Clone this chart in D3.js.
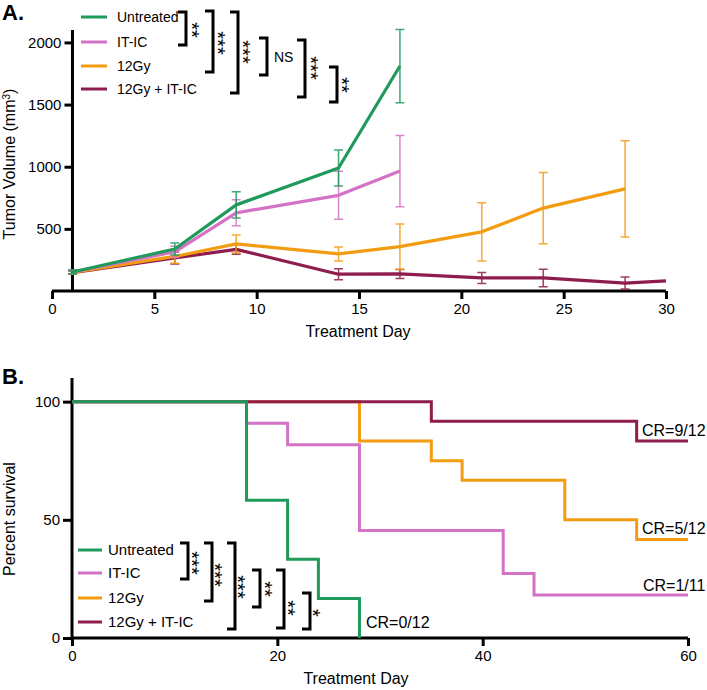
<!DOCTYPE html>
<html><head><meta charset="utf-8">
<script src="https://cdn.jsdelivr.net/npm/d3@7"></script>
<style>
body{margin:0;background:#fff;}
svg{font-family:"Liberation Sans",Arial,Helvetica,sans-serif;}
svg text{fill:#000;}
</style></head><body>
<svg id="c" width="707" height="690"></svg>
<script>
// ---------- DATA ----------
const groups = ["Untreated", "IT-IC", "12Gy", "12Gy + IT-IC"];
const colors = ["#1f9a5b", "#d472c6", "#f39c12", "#8e1c4d"];

// Panel A: tumor volume (mean ± error)
const daysUntreated = [1, 6, 9, 14, 17];
const volUntreated  = [153, 338, 693, 990, 1810];
const errUntreated  = [15, 48, 105, 145, 295];
const daysITIC = [1, 6, 9, 14, 17];
const volITIC  = [153, 315, 629, 770, 965];
const errITIC  = [15, 45, 105, 193, 287];
const days12Gy = [1, 6, 9, 14, 17, 21, 24, 28];
const vol12Gy  = [150, 278, 379, 298, 357, 476, 667, 822];
const err12Gy  = [15, 55, 72, 57, 182, 234, 287, 387];
const daysCombo = [1, 6, 9, 14, 17, 21, 24, 28, 30];
const volCombo  = [148, 266, 335, 135, 137, 105, 105, 64, 81];
const errCombo  = [12, 48, 40, 45, 36, 44, 70, 48, 0];
const xTicksA = [0, 5, 10, 15, 20, 25, 30];
const yTicksA = [500, 1000, 1500, 2000];

// Panel B: Kaplan-Meier survival
const tUntreated = [0, 17, 21, 24, 28];
const sUntreated = [100, 58.3, 33.3, 16.7, 0];
const tITIC = [0, 17, 21, 28, 42, 45, 60];
const sITIC = [100, 90.9, 81.8, 45.5, 27.3, 18.2, 18.2];
const t12Gy = [0, 28, 35, 38, 48, 55, 60];
const s12Gy = [100, 83.3, 75, 66.7, 50, 41.7, 41.7];
const tCombo = [0, 35, 55, 60];
const sCombo = [100, 91.7, 83.3, 83.3];
const crLabels = ["CR=0/12", "CR=1/11", "CR=5/12", "CR=9/12"];
const xTicksB = [0, 20, 40, 60];
const yTicksB = [0, 50, 100];

// significance annotations
const sigA = ["**", "***", "***", "NS", "***", "**"];
const sigB = ["***", "***", "***", "**", "**", "*"];

// ---------- DRAW ----------
const svg = d3.select("#c");
const FONT = "Liberation Sans, Arial, sans-serif";
const fmt = d3.format("d");

function styleAxis(g) {
  g.select(".domain").attr("stroke", "#000").attr("stroke-width", 3);
  g.selectAll(".tick line").attr("stroke", "#000").attr("stroke-width", 3);
  g.selectAll(".tick text").attr("font-size", 15).attr("font-family", FONT).attr("fill", "#000");
}

// ===== Panel A =====
const xA = d3.scaleLinear().domain([0, 30]).range([52, 666]);
const yA = d3.scaleLinear().domain([0, 2100]).range([291, 30]);
const gA = svg.append("g");

const gxA = gA.append("g").attr("transform", "translate(0,291)")
  .call(d3.axisBottom(xA).tickValues(xTicksA).tickFormat(fmt).tickSize(8).tickPadding(4));
const gyA = gA.append("g").attr("transform", `translate(${xA(1)},0)`)
  .call(d3.axisLeft(yA).tickValues(yTicksA).tickFormat(fmt).tickSize(8).tickPadding(3));
styleAxis(gxA); styleAxis(gyA);
gxA.select(".domain").attr("d", `M${xA(0)},0H${xA(30)}`);
gyA.select(".domain").attr("d", `M0,${yA(2100)}V${yA(0)}`);

const seriesA = [
  {d: daysCombo, v: volCombo, e: errCombo, c: colors[3]},
  {d: days12Gy, v: vol12Gy, e: err12Gy, c: colors[2]},
  {d: daysITIC, v: volITIC, e: errITIC, c: colors[1]},
  {d: daysUntreated, v: volUntreated, e: errUntreated, c: colors[0]}
];
const lineA = d3.line().x(p => xA(p[0])).y(p => yA(p[1]));
seriesA.forEach(s => {
  const pts = s.d.map((d, i) => [d, s.v[i], s.e[i]]);
  const eg = gA.append("g").attr("stroke", s.c).attr("stroke-width", 1.5).attr("fill", "none").attr("opacity", 0.85);
  pts.filter(p => p[2] > 0).forEach(p => {
    const x = xA(p[0]), y1 = yA(p[1] + p[2]), y2 = yA(Math.max(0, p[1] - p[2]));
    eg.append("path").attr("d", `M${x},${y1}V${y2}M${x - 4.5},${y1}H${x + 4.5}M${x - 4.5},${y2}H${x + 4.5}`);
  });
  gA.append("path").datum(pts).attr("d", lineA).attr("fill", "none")
    .attr("stroke", s.c).attr("stroke-width", 3.2).attr("stroke-linejoin", "round");
});

// legend A
const legAy = [17, 42, 66, 89];
groups.forEach((g, i) => {
  gA.append("line").attr("x1", 81).attr("x2", 107).attr("y1", legAy[i]).attr("y2", legAy[i])
    .attr("stroke", colors[i]).attr("stroke-width", 3);
  gA.append("text").attr("x", 117).attr("y", legAy[i] + 5).attr("font-size", 14).text(g);
});

// brackets A
const brA = [
  {x: 186, y1: 12, y2: 45, lx: 197, ly: 30},
  {x: 213, y1: 11, y2: 72, lx: 223, ly: 43},
  {x: 238, y1: 12, y2: 93, lx: 248, ly: 52},
  {x: 267, y1: 38, y2: 75, lx: 274, ly: 57},
  {x: 305, y1: 40, y2: 97, lx: 316, ly: 68},
  {x: 337, y1: 67, y2: 102, lx: 347, ly: 85}
];
function drawBrackets(g, br, labels) {
  br.forEach((b, i) => {
    g.append("path").attr("d", `M${b.x - 8},${b.y1}H${b.x}V${b.y2}H${b.x - 8}`)
      .attr("fill", "none").attr("stroke", "#000").attr("stroke-width", 3);
    if (labels[i] === "NS") {
      g.append("text").attr("x", b.lx).attr("y", b.ly + 5).attr("font-size", 14).text("NS");
    } else {
      g.append("text").attr("transform", `translate(${b.lx},${b.ly}) rotate(90)`)
        .attr("text-anchor", "middle").attr("dy", "0.58em").attr("font-size", 20)
        .attr("fill", "#000").text(labels[i]);
    }
  });
}
drawBrackets(gA, brA, sigA);

gA.append("text").attr("x", 2).attr("y", 20).attr("font-size", 22).attr("font-weight", "bold").text("A.");
gA.append("text").attr("transform", "translate(15,164) rotate(-90)").attr("text-anchor", "middle")
  .attr("font-size", 16).html("Tumor Volume (mm<tspan baseline-shift=\"super\" font-size=\"10\">3</tspan>)");
gA.append("text").attr("x", 358).attr("y", 337).attr("text-anchor", "middle").attr("font-size", 16).text("Treatment Day");

// ===== Panel B =====
const xB = d3.scaleLinear().domain([0, 60]).range([72, 688]);
const yB = d3.scaleLinear().domain([0, 110]).range([638, 378]);
const gB = svg.append("g");
const gxB = gB.append("g").attr("transform", "translate(0,638)")
  .call(d3.axisBottom(xB).tickValues(xTicksB).tickFormat(fmt).tickSize(8).tickPadding(4));
const gyB = gB.append("g").attr("transform", `translate(${xB(0)},0)`)
  .call(d3.axisLeft(yB).tickValues(yTicksB).tickFormat(fmt).tickSize(9).tickPadding(3));
styleAxis(gxB); styleAxis(gyB);
gxB.select(".domain").attr("d", `M${xB(0)},0H${xB(60)}`);
gyB.select(".domain").attr("d", `M0,${yB(110)}V${yB(0)}`);

const seriesB = [
  {t: t12Gy, s: s12Gy, c: colors[2]},
  {t: tITIC, s: sITIC, c: colors[1]},
  {t: tCombo, s: sCombo, c: colors[3]},
  {t: tUntreated, s: sUntreated, c: colors[0]}
];
const lineB = d3.line().x(p => xB(p[0])).y(p => yB(p[1])).curve(d3.curveStepAfter);
seriesB.forEach(s => {
  const pts = s.t.map((t, i) => [t, s.s[i]]);
  gB.append("path").datum(pts).attr("d", lineB).attr("fill", "none")
    .attr("stroke", s.c).attr("stroke-width", 3);
});

// CR labels
const crPos = [[366, 628], [643, 591], [642, 534], [642, 436]];
crLabels.forEach((t, i) => {
  gB.append("text").attr("x", crPos[i][0]).attr("y", crPos[i][1]).attr("font-size", 16).text(t);
});

// legend B
const legBy = [550, 573, 598, 622];
groups.forEach((g, i) => {
  gB.append("line").attr("x1", 78).attr("x2", 102).attr("y1", legBy[i]).attr("y2", legBy[i])
    .attr("stroke", colors[i]).attr("stroke-width", 3);
  gB.append("text").attr("x", 108).attr("y", legBy[i] + 5).attr("font-size", 15).text(g);
});
const brB = [
  {x: 188, y1: 543, y2: 579, lx: 197, ly: 563},
  {x: 212, y1: 543, y2: 601, lx: 220, ly: 575},
  {x: 235, y1: 543, y2: 629, lx: 243, ly: 587},
  {x: 260, y1: 570, y2: 607, lx: 270, ly: 589},
  {x: 284, y1: 570, y2: 628, lx: 293, ly: 608},
  {x: 310, y1: 593, y2: 629, lx: 318, ly: 613}
];
drawBrackets(gB, brB, sigB);

gB.append("text").attr("x", 2).attr("y", 384).attr("font-size", 22).attr("font-weight", "bold").text("B.");
gB.append("text").attr("transform", "translate(15,519) rotate(-90)").attr("text-anchor", "middle")
  .attr("font-size", 16).text("Percent survival");
gB.append("text").attr("x", 356).attr("y", 684).attr("text-anchor", "middle").attr("font-size", 16).text("Treatment Day");
</script>
</body></html>
